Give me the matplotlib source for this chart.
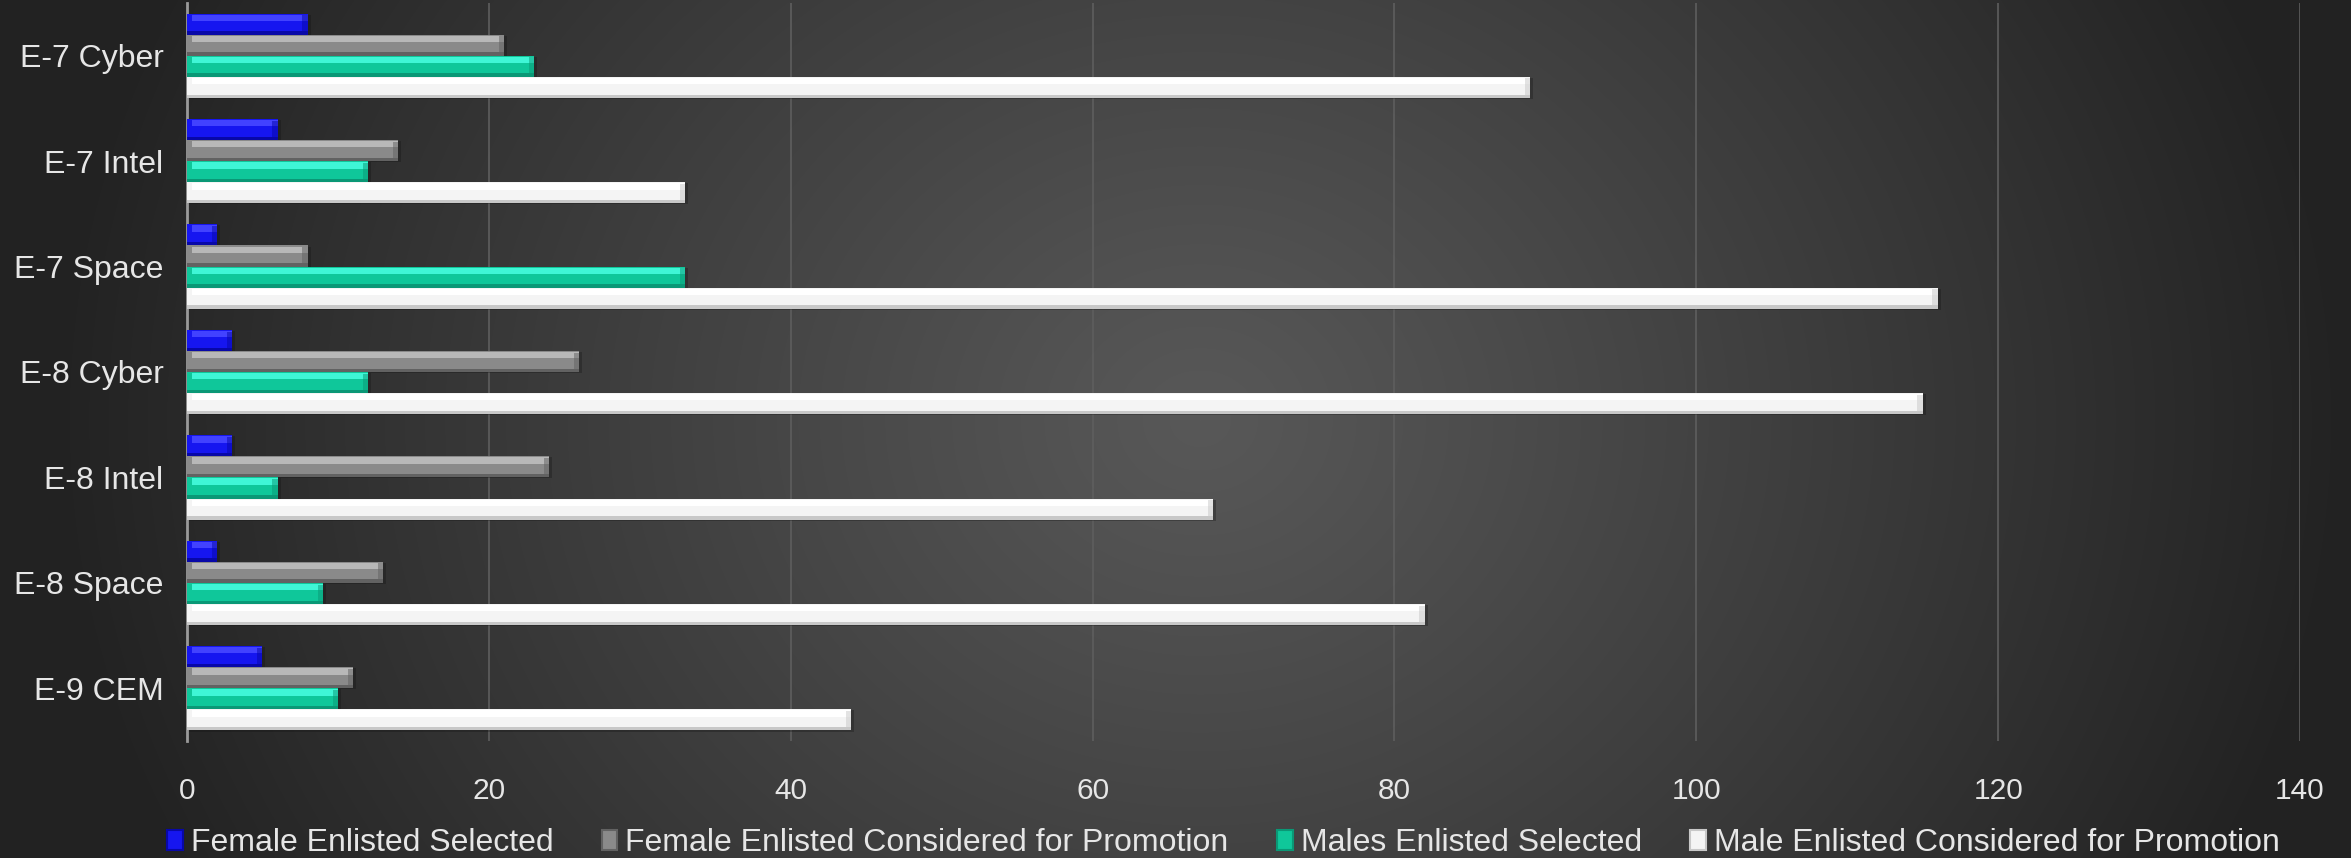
import numpy as np
import matplotlib
matplotlib.use("Agg")
import matplotlib.pyplot as plt
from matplotlib.patches import Patch

plt.rcParams['font.family'] = ['Liberation Sans Narrow', 'Liberation Sans', 'DejaVu Sans']

# promotion board numbers per grade / career field
categories = ["E-7 Cyber", "E-7 Intel", "E-7 Space", "E-8 Cyber", "E-8 Intel", "E-8 Space", "E-9 CEM"]
female_selected = [8, 6, 2, 3, 3, 2, 5]
female_considered = [21, 14, 8, 26, 24, 13, 11]
male_selected = [23, 12, 33, 12, 6, 9, 10]
male_considered = [89, 33, 116, 115, 68, 82, 44]

series_names = ["Female Enlisted Selected", "Female Enlisted Considered for Promotion",
                "Males Enlisted Selected", "Male Enlisted Considered for Promotion"]
# (face, top highlight, bottom shade)
series_colors = [("#1616f0", "#4242ff", "#0808a8"),
                 ("#8a8a8a", "#b8b8b8", "#626262"),
                 ("#0fc79a", "#3ff6d6", "#0a9876"),
                 ("#f4f4f4", "#ffffff", "#c8c8c8")]
series_values = [female_selected, female_considered, male_selected, male_considered]

W, H = 2351, 858
fig = plt.figure(figsize=(W / 100, H / 100), dpi=100)

# dark radial backdrop over the whole figure
bg = fig.add_axes([0, 0, 1, 1])
gx, gy = np.meshgrid(np.arange(W), np.arange(H))
r = np.sqrt(((gx - 1200) / 1150.0) ** 2 + ((gy - 420) / 1000.0) ** 2)
r = np.clip(r, 0, 1)
c_in, c_out = 0x58 / 255, 0x22 / 255
shade = c_in + (c_out - c_in) * r ** 1.1
bg.imshow(np.dstack([shade, shade, shade]), aspect='auto', extent=[0, 1, 0, 1])
bg.axis('off')

ax = fig.add_axes([187 / W, 1 - 741 / H, (2300 - 187) / W, (741 - 3) / H])
ax.patch.set_alpha(0)

y = np.arange(len(categories))
bar_h = 0.2
offsets = [-0.3, -0.1, 0.1, 0.3]

for vals, (face, hi, lo), off in zip(series_values, series_colors, offsets):
    vals = np.array(vals, dtype=float)
    yy = y + off
    h = bar_h
    # drop shadow
    ax.barh(yy + 0.01, vals + 0.2, height=h, color="#111111", alpha=0.3, zorder=2)
    ax.barh(yy, vals, height=h, color=face, zorder=3)
    # bevel bands (y axis inverted: smaller y is higher)
    ax.barh(yy - h * 0.30, vals - 0.35, left=0.35, height=h * 0.30, color=hi, zorder=4)
    ax.barh(yy + h * 0.42, vals, height=h * 0.16, color=lo, zorder=4)
    # right end cap
    cap = np.minimum(0.35, vals)
    ax.barh(yy, cap, left=vals - cap, height=h * 0.84, color=lo, alpha=0.5, zorder=5)

ax.set_xlim(0, 140)
ax.set_ylim(len(categories) - 0.5, -0.5)
ax.set_xticks(np.arange(0, 141, 20))
ax.set_yticks(y)
ax.set_yticklabels(categories)
ax.grid(axis='x', color="#5e5e5e", linewidth=1.2, zorder=0)
ax.set_axisbelow(True)
for s in ['top', 'right', 'bottom']:
    ax.spines[s].set_visible(False)
ax.spines['left'].set_color("#9a9a9a")
ax.spines['left'].set_linewidth(2)
ax.tick_params(axis='x', length=0, pad=26, labelsize=21.5, labelcolor="#e6e6e6")
ax.tick_params(axis='y', length=0, pad=17, labelsize=23, labelcolor="#e6e6e6")

handles = [Patch(facecolor=c[0], edgecolor=c[2], linewidth=1.5) for c in series_colors]
leg = fig.legend(handles, series_names, loc='center left', bbox_to_anchor=(167 / W, 1 - 843 / H),
                 ncol=4, frameon=False, fontsize=23, labelcolor="#e6e6e6",
                 handlelength=0.5, handleheight=0.6, handletextpad=0.25, columnspacing=1.5,
                 borderaxespad=0, borderpad=0)

fig.savefig("out.png", dpi=100)
